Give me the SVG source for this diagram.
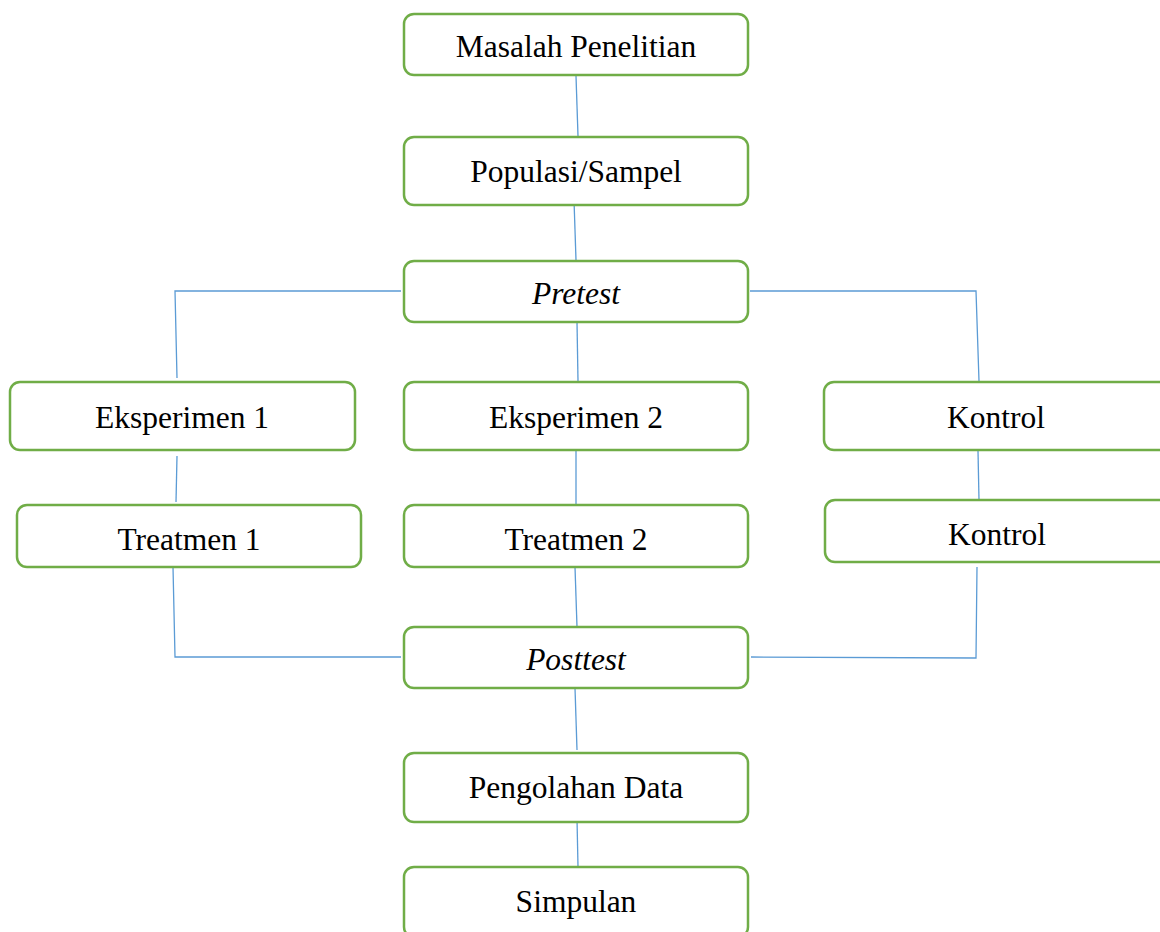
<svg xmlns="http://www.w3.org/2000/svg" width="1160" height="932" viewBox="0 0 1160 932">
<style>
.box{fill:#fff;stroke:#70AD47;stroke-width:2.5}
.t{font-family:"Liberation Serif","Times New Roman",serif;font-size:31.5px;fill:#000;text-anchor:middle}
.i{font-style:italic}
.c{fill:none;stroke:#5B9BD5;stroke-width:1.3}
</style>
<rect width="1160" height="932" fill="#fff"/>
<g id="connectors">
<line class="c" x1="576" y1="76" x2="578" y2="136"/>
<line class="c" x1="574" y1="200" x2="576" y2="260"/>
<polyline class="c" points="401,291 175,291 177,378"/>
<polyline class="c" points="750,291 976,291 979,381"/>
<line class="c" x1="577" y1="322" x2="578" y2="381"/>
<line class="c" x1="177" y1="456" x2="176" y2="502"/>
<line class="c" x1="576" y1="450" x2="576" y2="505"/>
<line class="c" x1="978" y1="451" x2="979" y2="500"/>
<polyline class="c" points="173,567 175,657 401,657"/>
<line class="c" x1="575" y1="567" x2="577" y2="627"/>
<polyline class="c" points="977,567 976,658 751,657"/>
<line class="c" x1="575" y1="688" x2="577" y2="750"/>
<line class="c" x1="577" y1="819" x2="578" y2="867"/>
</g>
<g id="masalah"><rect class="box" x="404" y="14" width="344" height="61" rx="10"/><text class="t" x="576" y="57">Masalah Penelitian</text></g>
<g id="populasi"><rect class="box" x="404" y="137" width="344" height="68" rx="10"/><text class="t" x="576" y="182">Populasi/Sampel</text></g>
<g id="pretest"><rect class="box" x="404" y="261" width="344" height="61" rx="10"/><text class="t i" x="576" y="304">Pretest</text></g>
<g id="eksperimen1"><rect class="box" x="10" y="382" width="345" height="68" rx="10"/><text class="t" x="182" y="428">Eksperimen 1</text></g>
<g id="eksperimen2"><rect class="box" x="404" y="382" width="344" height="68" rx="10"/><text class="t" x="576" y="428">Eksperimen 2</text></g>
<g id="kontrol1"><rect class="box" x="824" y="382" width="345" height="68" rx="10"/><text class="t" x="996" y="428">Kontrol</text></g>
<g id="treatmen1"><rect class="box" x="17" y="505" width="344" height="62" rx="10"/><text class="t" x="189" y="550">Treatmen 1</text></g>
<g id="treatmen2"><rect class="box" x="404" y="505" width="344" height="62" rx="10"/><text class="t" x="576" y="550">Treatmen 2</text></g>
<g id="kontrol2"><rect class="box" x="825" y="500" width="345" height="62" rx="10"/><text class="t" x="997" y="545">Kontrol</text></g>
<g id="posttest"><rect class="box" x="404" y="627" width="344" height="61" rx="10"/><text class="t i" x="576" y="670">Posttest</text></g>
<g id="pengolahan"><rect class="box" x="404" y="753" width="344" height="69" rx="10"/><text class="t" x="576" y="798">Pengolahan Data</text></g>
<g id="simpulan"><rect class="box" x="404" y="867" width="344" height="70" rx="10"/><text class="t" x="576" y="912">Simpulan</text></g>
</svg>
